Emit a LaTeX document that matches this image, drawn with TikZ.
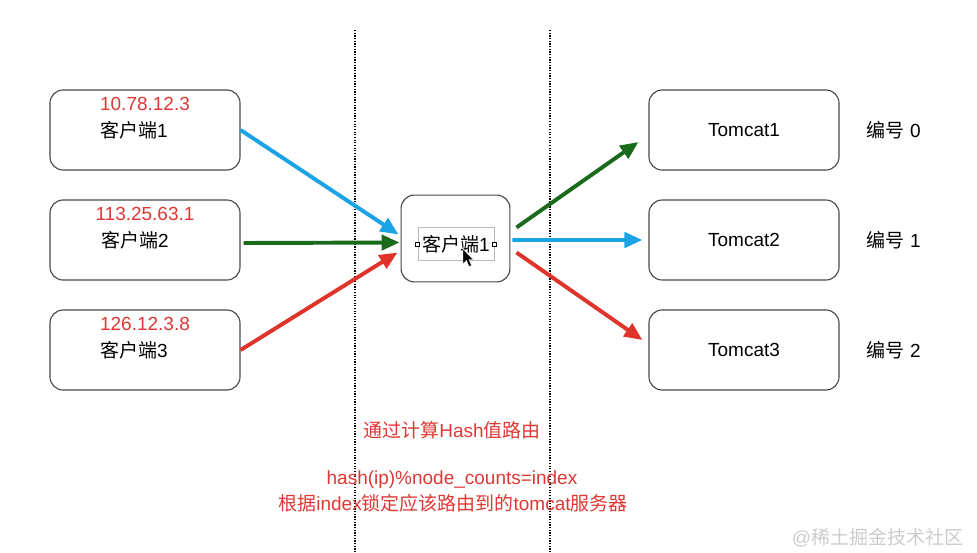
\documentclass[tikz,border=0pt]{standalone}
\usepackage{fontspec}
\setmainfont{Liberation Sans}
\newfontfamily\cjk{Noto Sans CJK SC}
\usetikzlibrary{arrows.meta,calc,positioning}
\definecolor{iplabel}{RGB}{222,56,52}
\definecolor{linkblue}{RGB}{28,163,230}
\definecolor{linkgreen}{RGB}{26,106,28}
\definecolor{linkred}{RGB}{222,52,42}
\definecolor{boxedge}{RGB}{72,72,72}

\begin{document}
\begin{tikzpicture}[x=0.025cm,y=-0.025cm,
                    every node/.style={font=\fontsize{13.5}{16}\selectfont},
                    box/.style={draw=boxedge,line width=0.8pt,rounded corners=0.33cm,
                                minimum width=4.75cm,minimum height=2cm,inner sep=0pt},
                    hubbox/.style={box,minimum width=2.72cm,minimum height=2.17cm},
                    iptext/.style={text=iplabel},
                    link/.style={line width=2.8pt,-{Triangle[length=0.45cm,width=0.38cm]}},
                    divider/.style={densely dotted,line width=0.9pt},
                    handle/.style={draw=black,fill=white,line width=0.4pt,
                                   minimum size=0.1cm,inner sep=0pt}]
  \useasboundingbox (0,0) rectangle (977,552);

  % --- dotted dividers -----------------------------------------------------
  \draw[divider] (355,30) -- (355,552);
  \draw[divider] (550,30) -- (550,552);

  % --- clients ---------------------------------------------------------------
  \node[box] (c1) at (145,130) {};
  \node[iptext] (ip1) at ($(c1.center)+(0,-26)$) {10.78.12.3};
  \node[anchor=west,inner sep=0pt] (n1) at ($(c1.center)+(-45,0)$) {{\cjk 客户端}1};

  \node[box] (c2) at (145,240) {};
  \node[iptext] (ip2) at ($(c2.center)+(0,-26)$) {113.25.63.1};
  \node[anchor=west,inner sep=0pt] (n2) at ($(c2.center)+(-44,0)$) {{\cjk 客户端}2};

  \node[box] (c3) at (145,350) {};
  \node[iptext] (ip3) at ($(c3.center)+(0,-26)$) {126.12.3.8};
  \node[anchor=west,inner sep=0pt] (n3) at ($(c3.center)+(-45,0)$) {{\cjk 客户端}3};

  % --- hub in the middle -----------------------------------------------------
  \node[hubbox] (hub) at (455.5,238.5) {};
  \node[draw=gray!55,line width=0.4pt,minimum width=1.9cm,minimum height=0.83cm,
        inner sep=0pt] (hubsel) at (456,244) {{\cjk 客户端}1};
  \node[handle] (hl) at (hubsel.west) {};
  \node[handle] (hr) at (hubsel.east) {};
  \filldraw[fill=black,draw=white,line width=0.3pt]
    (463,249) -- (463,264) -- (466.5,260.5) -- (469,266.5) -- (471.5,265.5)
    -- (469,259.5) -- (473,259.5) -- cycle;

  % --- tomcats ---------------------------------------------------------------
  \node[box] (t1) at (744,130) {Tomcat1};
  \node[anchor=west] (k1) at (862,130) {{\cjk 编号} 0};
  \node[box] (t2) at (744,240) {Tomcat2};
  \node[anchor=west] (k2) at (862,240) {{\cjk 编号} 1};
  \node[box] (t3) at (744,350) {Tomcat3};
  \node[anchor=west] (k3) at (862,350) {{\cjk 编号} 2};

  % --- links -----------------------------------------------------------------
  \coordinate (inA) at ($(hub.west)+(-2,-4)$);
  \coordinate (inB) at ($(hub.west)+(-1,4)$);
  \coordinate (inC) at ($(hub.west)+(-3,14)$);
  \coordinate (fromB) at ($(c2.east)+(3,3)$);
  \draw[link,linkblue] (c1.east) -- (inA);
  \draw[link,linkgreen] (fromB) -- (inB);
  \draw[link,linkred] (c3.east) -- (inC);

  \coordinate (outA) at ($(hub.east)+(6,-11)$);
  \coordinate (outB) at ($(hub.east)+(2,1.5)$);
  \coordinate (outC) at ($(hub.east)+(6,14)$);
  \draw[link,linkgreen] (outA) -- ($(t1.west)+(-10,12)$);
  \draw[link,linkblue] (outB) -- ($(t2.west)+(-6,0)$);
  \draw[link,linkred] (outC) -- ($(t3.west)+(-6,-10)$);

  % --- notes -----------------------------------------------------------------
  \node[iptext] (rule) at (452,430) {{\cjk 通过计算}Hash{\cjk 值路由}};
  \node[iptext] (formula) at (452,480) {hash(ip)\%node\_counts=index};
  \node[iptext] (lookup) at (453,503) {{\cjk 根据}index{\cjk 锁定应该路由到的}tomcat{\cjk 服务器}};

  \node[anchor=east,text=gray!40] (mark) at (968,538) {@{\cjk 稀土掘金技术社区}};
\end{tikzpicture}
\end{document}
